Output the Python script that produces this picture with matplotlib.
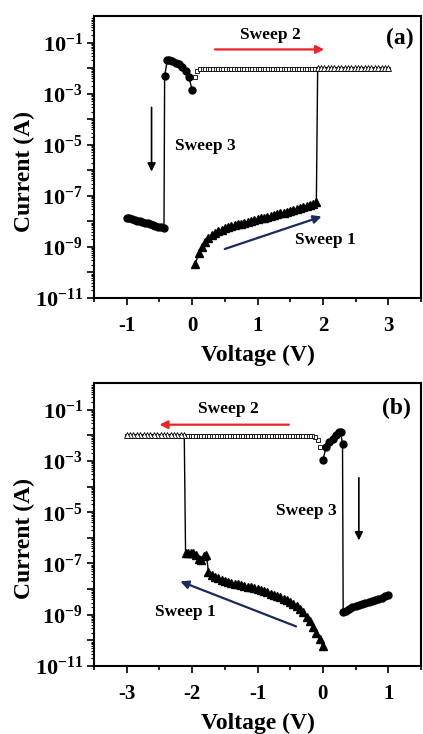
import numpy as np
import matplotlib
matplotlib.use("Agg")
import matplotlib.pyplot as plt
from matplotlib.ticker import FixedLocator, FuncFormatter, MultipleLocator

plt.rcParams['font.family'] = ['Liberation Serif', 'DejaVu Serif']
plt.rcParams['font.weight'] = 'bold'
plt.rcParams['mathtext.fontset'] = 'custom'
plt.rcParams['mathtext.rm'] = 'Liberation Serif:bold'
plt.rcParams['mathtext.bf'] = 'Liberation Serif:bold'
plt.rcParams['axes.unicode_minus'] = False

# ---------------- panel (a) data ----------------
# sweep 1: 0.05 -> 1.9 V in 0.05 V steps, high resistance state, then set to compliance
a_s1_i = [2.2e-10, 5.6e-10, 1.0e-9, 1.6e-9, 2.2e-9, 2.8e-9, 3.5e-9, 4.2e-9, 4.8e-9, 5.4e-9,
          5.9e-9, 6.5e-9, 7.0e-9, 7.6e-9, 8.2e-9, 8.9e-9, 9.6e-9, 1.04e-8, 1.12e-8, 1.2e-8,
          1.3e-8, 1.4e-8, 1.5e-8, 1.62e-8, 1.75e-8, 1.9e-8, 2.05e-8, 2.2e-8, 2.4e-8, 2.6e-8,
          2.8e-8, 3.0e-8, 3.3e-8, 3.6e-8, 3.9e-8, 4.3e-8, 4.7e-8, 5.5e-8]
a_s1_v = np.round(0.05 * np.arange(1, len(a_s1_i) + 1), 2)
a_s1_hi_v = np.linspace(1.92, 3.0, 22)                          # compliance after set
a_s1_hi_i = [1.0e-2] * len(a_s1_hi_v)
# sweep 2: low resistance state, 0 -> 3 V
a_s2_v = np.round(0.04 * np.arange(76), 2)                     # 0 .. 3.00
a_s2_i = [1.4e-3, 4.6e-3, 7.8e-3] + [9.5e-3] * (len(a_s2_v) - 3)
# sweep 3: 0 -> -1 V, reset near -0.42 V
a_s3_v = [0.0, -0.05, -0.10, -0.15, -0.20, -0.25, -0.30, -0.35, -0.38, -0.42,
          -0.43, -0.48, -0.52, -0.56, -0.60, -0.64, -0.68, -0.72, -0.76, -0.80,
          -0.84, -0.88, -0.92, -0.96, -1.00]
a_s3_i = [1.4e-3, 4.6e-3, 7.5e-3, 1.1e-2, 1.4e-2, 1.65e-2, 1.85e-2, 2.0e-2, 2.0e-2, 4.8e-3,
          5.4e-9, 5.8e-9, 6.2e-9, 6.7e-9, 7.2e-9, 7.7e-9, 8.3e-9, 8.9e-9, 9.5e-9, 1.02e-8,
          1.08e-8, 1.15e-8, 1.23e-8, 1.31e-8, 1.4e-8]

# ---------------- panel (b) data ----------------
b_s1_v = [0.0, -0.05, -0.10, -0.15, -0.20, -0.25, -0.30, -0.35, -0.40, -0.45,
          -0.50, -0.55, -0.60, -0.65, -0.70, -0.75, -0.80, -0.85, -0.90, -0.95,
          -1.00, -1.05, -1.10, -1.15, -1.20, -1.25, -1.30, -1.35, -1.40, -1.45,
          -1.50, -1.55, -1.60, -1.65, -1.70, -1.75, -1.78, -1.82, -1.86, -1.90,
          -1.94, -1.98, -2.02, -2.06, -2.10]
b_s1_i = [6e-11, 1.1e-10, 2.0e-10, 3.4e-10, 5.5e-10, 8.5e-10, 1.3e-9, 1.7e-9, 2.2e-9, 2.7e-9,
          3.2e-9, 3.7e-9, 4.2e-9, 4.8e-9, 5.4e-9, 6.0e-9, 6.7e-9, 7.4e-9, 8.2e-9, 9.0e-9,
          1.0e-8, 1.08e-8, 1.16e-8, 1.24e-8, 1.32e-8, 1.42e-8, 1.52e-8, 1.65e-8, 1.8e-8, 1.95e-8,
          2.1e-8, 2.3e-8, 2.6e-8, 3.0e-8, 3.6e-8, 4.5e-8, 2.2e-7, 2.0e-7, 1.4e-7, 1.5e-7,
          2.2e-7, 2.5e-7, 2.6e-7, 2.5e-7, 2.6e-7]
b_s1_hi_v = np.linspace(-2.12, -3.0, 18)                        # compliance after set
b_s1_hi_i = [1.0e-2] * len(b_s1_hi_v)
b_s2_v = np.round(-0.04 * np.arange(76), 2)                    # 0 .. -3.00
b_s2_i = [1.2e-3, 3.6e-3, 6.5e-3, 8.8e-3] + [9.5e-3] * (len(b_s2_v) - 4)
b_s3_v = [0.0, 0.05, 0.10, 0.15, 0.20, 0.25, 0.27, 0.30, 0.31,
          0.35, 0.40, 0.45, 0.50, 0.55, 0.60, 0.65, 0.70, 0.75, 0.80, 0.85, 0.90, 0.95, 1.00]
b_s3_i = [1.1e-3, 3.5e-3, 5.5e-3, 7.5e-3, 1.0e-2, 1.3e-2, 1.4e-2, 4.5e-3, 1.3e-9,
          1.45e-9, 1.75e-9, 2.0e-9, 2.25e-9, 2.5e-9, 2.7e-9, 2.9e-9, 3.15e-9, 3.4e-9, 3.7e-9,
          4.1e-9, 4.6e-9, 5.2e-9, 5.9e-9]

y_major = [1e-11, 1e-10, 1e-9, 1e-8, 1e-7, 1e-6, 1e-5, 1e-4, 1e-3, 1e-2, 1e-1]
y_labeled = [-11, -9, -7, -5, -3, -1]

RED = '#e8252b'
NAVY = '#1a2a5a'


def ylab(val, pos):
    e = int(round(np.log10(val)))
    if e in y_labeled:
        return r'$\mathbf{10^{%d}}$' % e
    return ''


def style_axes(ax, xlim, xticks):
    ax.set_yscale('log')
    ax.set_ylim(1e-11, 1.1)
    ax.set_xlim(*xlim)
    ax.set_xticks(xticks)
    ax.xaxis.set_minor_locator(MultipleLocator(0.5))
    ax.yaxis.set_major_locator(FixedLocator(y_major))
    minors = [m * 10.0 ** e for e in range(-11, 0) for m in range(2, 10)]
    ax.yaxis.set_minor_locator(FixedLocator(minors))
    ax.yaxis.set_major_formatter(FuncFormatter(ylab))
    ax.yaxis.set_minor_formatter(FuncFormatter(lambda v, p: ''))
    ax.tick_params(axis='both', which='major', direction='out', length=5, width=1.2, pad=3)
    ax.tick_params(axis='y', which='major', labelsize=16)
    ax.tick_params(axis='x', which='major', labelsize=15, pad=8)
    ax.tick_params(axis='x', which='minor', direction='out', length=3, width=1.2)
    ax.tick_params(axis='y', which='minor', direction='out', length=2, width=0.8)
    for lab in ax.get_xticklabels():
        lab.set_fontweight('bold')
    for sp in ax.spines.values():
        sp.set_linewidth(1.5)
    ax.set_xlabel('Voltage (V)', fontsize=17, fontweight='bold')
    ax.set_ylabel('Current (A)', fontsize=17, fontweight='bold')
    ax.xaxis.set_label_coords(0.5, -0.165)
    ax.yaxis.set_label_coords(-0.18, 0.45)


def draw_panel(ax, s1_v, s1_i, hi_v, hi_i, s2_v, s2_i, s3_v, s3_i):
    # connecting lines
    ax.plot(list(s1_v) + list(hi_v), list(s1_i) + list(hi_i), '-', color='black', lw=1.0)
    ax.plot(s3_v, s3_i, '-', color='black', lw=1.0)
    # markers
    ax.plot(s2_v, s2_i, 's', ms=3.5, mfc='white', mec='black', mew=0.6, ls='none')
    ax.plot(hi_v, hi_i, '^', ms=4, mfc='white', mec='black', mew=0.6, ls='none')
    ax.plot(s1_v, s1_i, '^', ms=6, color='black', ls='none')
    ax.plot(s3_v, s3_i, 'o', ms=5, color='black', ls='none')


def arrow(ax, start, end, color, lw=1.6):
    ax.annotate('', xy=end, xytext=start,
                arrowprops=dict(arrowstyle='-|>', color=color, lw=lw,
                                mutation_scale=12, shrinkA=0, shrinkB=0))


fig = plt.figure(figsize=(4.23, 7.34), dpi=100)
axa = fig.add_axes([94 / 423, 436 / 734, 327 / 423, 282 / 734])
axb = fig.add_axes([94 / 423, 68 / 734, 327 / 423, 283 / 734])

TXT = dict(fontsize=12.5, fontweight='bold', ha='center', va='center')
TAG = dict(fontsize=17, fontweight='bold', ha='center', va='center')

# panel (a)
draw_panel(axa, a_s1_v, a_s1_i, a_s1_hi_v, a_s1_hi_i, a_s2_v, a_s2_i, a_s3_v, a_s3_i)
style_axes(axa, (-1.5, 3.5), [-1, 0, 1, 2, 3])
arrow(axa, (0.35, 5.4e-2), (2.02, 5.4e-2), RED)
arrow(axa, (-0.62, 2.9e-4), (-0.62, 9e-7), 'black', lw=1.2)
arrow(axa, (0.5, 8.3e-10), (1.98, 1.55e-8), NAVY)
axa.text(1.2, 0.2, 'Sweep 2', **TXT)
axa.text(0.2, 9e-6, 'Sweep 3', **TXT)
axa.text(2.04, 1.9e-9, 'Sweep 1', **TXT)
axa.text(3.18, 0.14, '(a)', **TAG)

# panel (b)
draw_panel(axb, b_s1_v, b_s1_i, b_s1_hi_v, b_s1_hi_i, b_s2_v, b_s2_i, b_s3_v, b_s3_i)
style_axes(axb, (-3.5, 1.5), [-3, -2, -1, 0, 1])
arrow(axb, (-0.52, 2.6e-2), (-2.5, 2.6e-2), RED)
arrow(axb, (0.55, 2.2e-4), (0.55, 8e-7), 'black', lw=1.2)
arrow(axb, (-0.41, 3.5e-10), (-2.18, 2.0e-8), NAVY)
axb.text(-1.45, 0.11, 'Sweep 2', **TXT)
axb.text(-0.26, 1.1e-5, 'Sweep 3', **TXT)
axb.text(-2.1, 1.3e-9, 'Sweep 1', **TXT)
axb.text(1.12, 0.11, '(b)', **TAG)

fig.savefig('out.png', dpi=100)
